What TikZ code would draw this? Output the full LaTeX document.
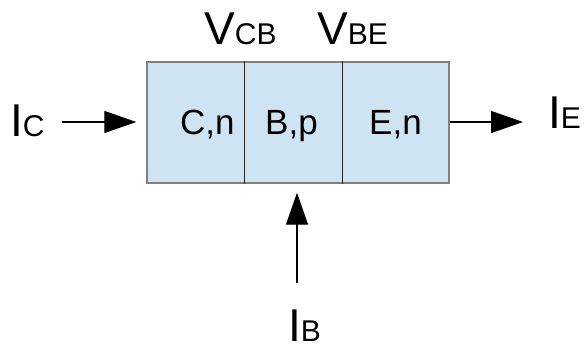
\documentclass[tikz,border=0pt]{standalone}
\usepackage{fontspec}
\setmainfont{Liberation Sans}
\usetikzlibrary{arrows.meta,calc}
\definecolor{cellblue}{RGB}{207,228,243}
\definecolor{boxgray}{RGB}{128,128,128}
\definecolor{divgray}{RGB}{40,40,40}
\tikzset{
  big/.style={inner sep=0pt, anchor=base west, font=\fontsize{46}{46}\selectfont},
  cellt/.style={inner sep=0pt, anchor=base west, font=\fontsize{35}{35}\selectfont},
  arr/.style={line width=1.4pt, -{Triangle[length=32pt,width=22pt]}}
}
\newcommand{\smallsub}[1]{{\fontsize{30}{30}\selectfont #1}}
\begin{document}
\begin{tikzpicture}[x=1pt,y=-1pt]
\useasboundingbox (0,0) rectangle (585,344);
\node[draw=boxgray, line width=1.5pt, fill=cellblue, minimum width=302pt, minimum height=121pt, inner sep=0pt] (box) at (298,122.5) {};
\coordinate (d1t) at ($(box.north west)+(98,0)$);
\coordinate (d1b) at ($(box.south west)+(98,0)$);
\coordinate (d2t) at ($(box.north west)+(196,0)$);
\coordinate (d2b) at ($(box.south west)+(196,0)$);
\draw[divgray, line width=1.4pt] (d1t) -- (d1b);
\draw[divgray, line width=1.4pt] (d2t) -- (d2b);
\node[cellt] (cn) at (180,135) {C,n};
\node[cellt] (bp) at (265,135) {B,p};
\node[cellt] (en) at (369,135) {E,n};
\node[big] (vcb) at (204,45) {V\smallsub{CB}};
\node[big] (vbe) at (317,45) {V\smallsub{BE}};
\node[big] (ic) at (10,137) {I\smallsub{C}};
\node[big] (ie) at (548,129) {I\smallsub{E}};
\node[big] (ib) at (288,341) {I\smallsub{B}};
\coordinate (ics) at (62,122);
\coordinate (ies) at (523,122);
\coordinate (ibs) at (297,283);
\draw[arr, shorten >=10pt] (ics) -- (box.west |- ics);
\draw[arr] (box.east |- ies) -- (ies);
\draw[arr, shorten >=9pt] (ibs) -- (ibs |- box.south);
\end{tikzpicture}
\end{document}
